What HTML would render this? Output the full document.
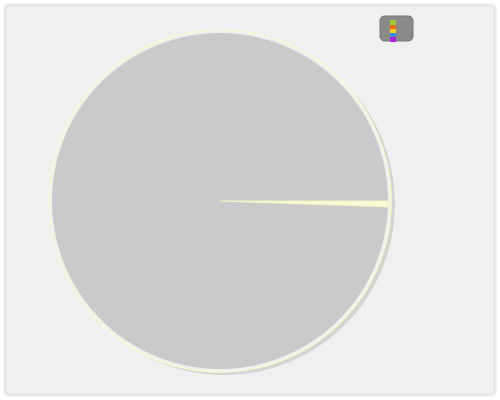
<!DOCTYPE html>
<html><head><meta charset="utf-8"><style>
body{margin:0;width:500px;height:400px;background:#fff;font-family:"Liberation Sans",sans-serif;}
#frame{position:absolute;left:5px;top:5px;width:488px;height:388px;background:#f0f0f0;border:1px solid #ddd;border-radius:4px;box-shadow:0 0 3px #ccc;}
</style></head><body>
<div id="frame"></div>
<svg id="chart" width="500" height="400" style="position:absolute;left:0;top:0">
<g id="pie"></g>
<g>
<rect x="380" y="16" width="33" height="25" rx="5" fill="#8a8a8a" stroke="#777"/>
<rect x="390" y="20" width="6" height="5" fill="#9acd32"/>
<rect x="390" y="25" width="6" height="4" fill="#f06a20"/>
<rect x="390" y="29" width="6" height="4" fill="#f0d020"/>
<rect x="390" y="33" width="6" height="4" fill="#3a8ee0"/>
<rect x="390" y="37" width="6" height="5" fill="#b020e0"/>
</g>
</svg>
<script>
const categories=["Other","Small"];
const values=[358,2];
const colors=["#cacaca","#fafad2"];
const cx=220,cy=201,r=168;
const g=document.getElementById('pie');
const NS="http://www.w3.org/2000/svg";
const sh=document.createElementNS(NS,'circle');
sh.setAttribute('cx',cx+4);sh.setAttribute('cy',cy+3);sh.setAttribute('r',r+3);sh.setAttribute('fill','#d4d4d4');


g.appendChild(sh);
const ring=document.createElementNS(NS,'circle');
ring.setAttribute('cx',cx);ring.setAttribute('cy',cy);ring.setAttribute('r',r+3);ring.setAttribute('fill','#f0f0f0');ring.setAttribute('stroke','#f8f8d0');ring.setAttribute('stroke-width','1.5');


g.appendChild(ring);
const total=values.reduce((a,b)=>a+b,0);
let a0=-values[0]/total*2*Math.PI;
values.forEach((v,i)=>{
  const a1=a0+v/total*2*Math.PI;
  const p=document.createElementNS(NS,'path');
  const x0=cx+r*Math.cos(a0),y0=cy+r*Math.sin(a0),x1=cx+r*Math.cos(a1),y1=cy+r*Math.sin(a1);
  const large=(a1-a0)>Math.PI?1:0;
  p.setAttribute('d',`M${cx},${cy}L${x0},${y0}A${r},${r} 0 ${large} 1 ${x1},${y1}Z`);
  p.setAttribute('fill',colors[i]);
  p.setAttribute('stroke',i?'#f4f4c8':'none');
  
  
  g.appendChild(p);
  a0=a1;
});
</script>
</body></html>
